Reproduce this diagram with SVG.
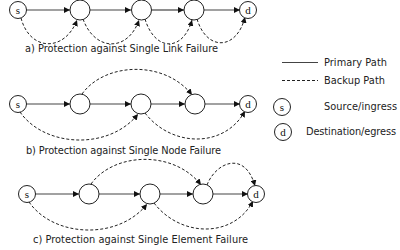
<svg xmlns="http://www.w3.org/2000/svg" width="400" height="250" viewBox="0 0 400 250">
<defs>
<marker id="ah" viewBox="0 0 10 10" refX="10" refY="5" markerWidth="6" markerHeight="6" orient="auto" markerUnits="userSpaceOnUse">
<path d="M0,0 L10,5 L0,10 z" fill="#111"/>
</marker>
<style>
.n{fill:#fff;stroke:#222;stroke-width:1}
.p{fill:none;stroke:#444;stroke-width:1.2;marker-end:url(#ah)}
.b{fill:none;stroke:#222;stroke-width:1;stroke-dasharray:3,2;marker-end:url(#ah)}
.lbl{font-family:"Liberation Serif",serif;font-size:11px;fill:#111;text-anchor:middle}
.cap{font-family:"DejaVu Sans",Verdana,sans-serif;font-size:9.8px;fill:#222}
</style>
</defs>
<rect width="400" height="250" fill="#fff"/>
<g id="connectors">
<path class="p" d="M26,10 H70"/>
<path class="p" d="M90,10 H131"/>
<path class="p" d="M152,10 H184"/>
<path class="p" d="M204,10 H240"/>
<path class="b" d="M21,18 C30,52 65,52 77,20"/>
<path class="b" d="M83,19 C95,52 128,52 139,20"/>
<path class="b" d="M145,19 C155,52 183,52 192,20"/>
<path class="b" d="M197,19 C207,52 237,50 245,17"/>
<path class="p" d="M26,104 H70"/>
<path class="p" d="M90,104 H131"/>
<path class="p" d="M151,104 H185"/>
<path class="p" d="M205,104 H240"/>
<path class="b" d="M20,112 C45,148 110,150 138,114"/>
<path class="b" d="M82,94 C105,62 165,60 192,95"/>
<path class="b" d="M145,113 C172,148 225,148 245,111"/>
<path class="p" d="M35,194 H79"/>
<path class="p" d="M99,194 H140"/>
<path class="p" d="M160,194 H193"/>
<path class="p" d="M213,194 H248"/>
<path class="b" d="M29,202 C54,238 119,240 147,204"/>
<path class="b" d="M91,184 C114,152 174,150 201,185"/>
<path class="b" d="M154,203 C181,238 234,238 253,201"/>
<path class="b" d="M207,185 C216,162 245,150 255,186"/>
<path d="M282,62.5 H318" fill="none" stroke="#444" stroke-width="1.2"/>
<path d="M282,80.5 H318" fill="none" stroke="#222" stroke-width="1" stroke-dasharray="3,2"/>
</g>
<g id="a-s"><circle class="n" cx="18" cy="10" r="8.5"/><text class="lbl" x="18" y="13.5">s</text></g>
<g id="a-n1"><circle class="n" cx="80" cy="10" r="10"/></g>
<g id="a-n2"><circle class="n" cx="141.5" cy="10" r="10"/></g>
<g id="a-n3"><circle class="n" cx="194" cy="10" r="10"/></g>
<g id="a-d"><circle class="n" cx="248" cy="10" r="8.5"/><text class="lbl" x="248" y="13.5">d</text></g>
<g id="b-s"><circle class="n" cx="18" cy="104" r="8.5"/><text class="lbl" x="18" y="107.5">s</text></g>
<g id="b-n1"><circle class="n" cx="80" cy="104" r="10"/></g>
<g id="b-n2"><circle class="n" cx="141" cy="104" r="10"/></g>
<g id="b-n3"><circle class="n" cx="195" cy="104" r="10"/></g>
<g id="b-d"><circle class="n" cx="248" cy="104" r="8.5"/><text class="lbl" x="248" y="107.5">d</text></g>
<g id="c-s"><circle class="n" cx="27" cy="194" r="8.5"/><text class="lbl" x="27" y="197.5">s</text></g>
<g id="c-n1"><circle class="n" cx="89" cy="194" r="10"/></g>
<g id="c-n2"><circle class="n" cx="150" cy="194" r="10"/></g>
<g id="c-n3"><circle class="n" cx="203" cy="194" r="10"/></g>
<g id="c-d"><circle class="n" cx="256" cy="194" r="8.5"/><text class="lbl" x="256" y="197.5">d</text></g>
<text class="cap" x="25" y="52" textLength="193">a) Protection against Single Link Failure</text>
<text class="cap" x="26" y="154" textLength="195">b) Protection against Single Node Failure</text>
<text class="cap" x="33" y="243" textLength="215">c) Protection against Single Element Failure</text>
<g id="legend">
<text class="cap" x="324" y="66" textLength="63">Primary Path</text>
<text class="cap" x="324" y="84" textLength="61">Backup Path</text>
<g id="leg-s"><circle class="n" cx="282" cy="107" r="8.5"/><text class="lbl" x="282" y="110.5">s</text></g>
<text class="cap" x="324" y="110" textLength="73">Source/ingress</text>
<g id="leg-d"><circle class="n" cx="283" cy="132" r="8.5"/><text class="lbl" x="283" y="135.5">d</text></g>
<text class="cap" x="306" y="135" textLength="90">Destination/egress</text>
</g>
</svg>
